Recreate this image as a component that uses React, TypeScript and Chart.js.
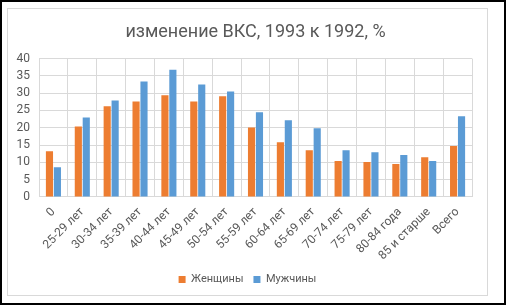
import React, { useEffect, useRef } from "react";
import { Chart, registerables } from "chart.js";

Chart.register(...registerables);

const categories = [
  "0", "25-29 лет", "30-34 лет", "35-39 лет", "40-44 лет", "45-49 лет", "50-54 лет",
  "55-59 лет", "60-64 лет", "65-69 лет", "70-74 лет", "75-79 лет", "80-84 года",
  "85 и старше", "Всего",
];
const women = [13.2, 20.4, 26.2, 27.6, 29.4, 27.6, 29.1, 20.1, 15.8, 13.5, 10.4, 10.1, 9.5, 11.5, 14.7];
const men = [8.6, 23.0, 27.9, 33.4, 36.8, 32.5, 30.5, 24.5, 22.2, 19.9, 13.5, 12.9, 12.1, 10.4, 23.3];
const seriesNames = ["Женщины", "Мужчины"];
const titleText = "изменение ВКС, 1993 к 1992, %";

const FONT = "Roboto, 'Noto Sans', sans-serif";
const TEXT = "#595959";
const GRID = "#D9D9D9";

export default function App() {
  const ref = useRef<HTMLCanvasElement | null>(null);
  useEffect(() => {
    if (!ref.current) return;
    const chart = new Chart(ref.current, {
      type: "bar",
      data: {
        labels: categories,
        datasets: [
          { label: seriesNames[0], data: women, backgroundColor: "#ED7D31", categoryPercentage: 0.55, barPercentage: 0.9 },
          { label: seriesNames[1], data: men, backgroundColor: "#5B9BD5", categoryPercentage: 0.55, barPercentage: 0.9 },
        ],
      },
      options: {
        responsive: false,
        animation: false,
        layout: { padding: { left: 0, right: 0, top: 0, bottom: 0 } },
        plugins: {
          title: {
            display: true,
            fullSize: false,
            text: titleText,
            color: TEXT,
            font: { family: FONT, size: 18, weight: "normal" },
            padding: { top: 13, bottom: 15 },
          },
          legend: {
            position: "bottom",
            labels: {
              boxWidth: 7,
              boxHeight: 7,
              color: TEXT,
              font: { family: FONT, size: 11 },
              padding: 10,
            },
          },
          tooltip: { enabled: false },
        },
        scales: {
          x: {
            grid: { color: GRID, drawTicks: false },
            border: { color: GRID },
            ticks: { color: TEXT, font: { family: FONT, size: 12 }, minRotation: 45, maxRotation: 45, padding: 8, autoSkip: false },
            afterFit: (s: any) => { s.height = s.height - 7; },
          },
          y: {
            min: 0,
            max: 40,
            grid: { color: GRID, drawTicks: false },
            border: { display: false },
            ticks: { stepSize: 5, color: TEXT, font: { family: FONT, size: 12 }, padding: 9, autoSkip: false },
            afterFit: (s: any) => { s.width = 31; },
          },
          y2: {
            position: "right",
            display: true,
            grid: { display: false, drawTicks: false },
            border: { display: false },
            ticks: { display: false },
            afterFit: (s: any) => { s.width = 15; },
          },
        },
      },
    });
    return () => chart.destroy();
  }, []);
  return (
    <div style={{ position: "absolute", left: 0, top: 0, width: 506, height: 305, boxSizing: "border-box", border: "2px solid #000", background: "#fff" }}>
      <div style={{ position: "absolute", left: 5, top: 6, width: 481, height: 288, boxSizing: "border-box", border: "1px solid #D9D9D9" }}>
        <canvas ref={ref} width={479} height={286} style={{ display: "block" }} />
      </div>
    </div>
  );
}
